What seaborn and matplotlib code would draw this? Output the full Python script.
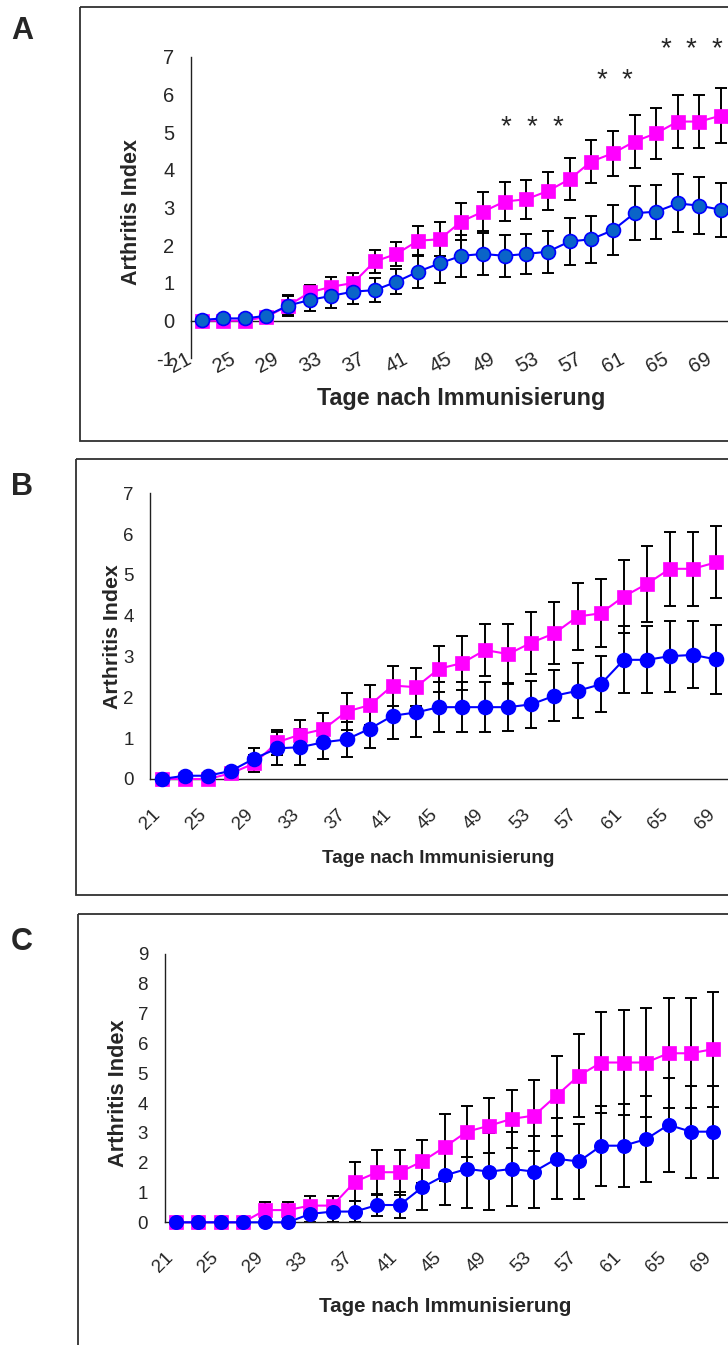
import matplotlib
matplotlib.use("Agg")
import matplotlib.pyplot as plt
import matplotlib.transforms as mtransforms
from matplotlib.patches import Rectangle
import pandas as pd
import seaborn as sns

# days after immunisation (one category every 2 days)
days = [21, 23, 25, 27, 29, 31, 33, 35, 37, 39, 41, 43, 45,
        47, 49, 51, 53, 55, 57, 59, 61, 63, 65, 67, 69]

# panel A
A_pink_mean = [0, 0, 0, 0.1, 0.4, 0.75, 0.9, 1.0, 1.57, 1.77, 2.12, 2.16, 2.63,
               2.89, 3.16, 3.22, 3.44, 3.75, 4.22, 4.44, 4.75, 4.97, 5.28, 5.28, 5.44]
A_pink_sem = [0, 0, 0, 0.05, 0.28, 0.2, 0.27, 0.26, 0.3, 0.32, 0.4, 0.45, 0.5,
              0.52, 0.52, 0.52, 0.5, 0.56, 0.56, 0.6, 0.7, 0.68, 0.71, 0.71, 0.72]
A_blue_mean = [0.02, 0.06, 0.06, 0.13, 0.4, 0.55, 0.66, 0.77, 0.81, 1.03, 1.3, 1.52, 1.72,
               1.77, 1.72, 1.77, 1.83, 2.1, 2.16, 2.4, 2.85, 2.89, 3.11, 3.05, 2.94]
A_blue_sem = [0, 0.02, 0.03, 0.05, 0.25, 0.28, 0.33, 0.33, 0.32, 0.33, 0.44, 0.52, 0.55,
              0.55, 0.55, 0.52, 0.56, 0.62, 0.62, 0.66, 0.71, 0.72, 0.77, 0.76, 0.71]

# panel B
B_pink_mean = [0, 0, 0, 0.14, 0.38, 0.9, 1.09, 1.22, 1.65, 1.81, 2.29, 2.25, 2.7,
               2.84, 3.16, 3.06, 3.34, 3.57, 3.98, 4.06, 4.47, 4.78, 5.15, 5.15, 5.31]
B_pink_sem = [0, 0, 0, 0.05, 0.22, 0.3, 0.36, 0.39, 0.45, 0.49, 0.49, 0.46, 0.57,
              0.67, 0.63, 0.73, 0.76, 0.76, 0.83, 0.83, 0.9, 0.93, 0.91, 0.91, 0.88]
B_blue_mean = [0, 0.08, 0.08, 0.2, 0.5, 0.75, 0.78, 0.9, 0.97, 1.23, 1.55, 1.63, 1.76,
               1.76, 1.76, 1.76, 1.83, 2.04, 2.16, 2.32, 2.92, 2.92, 3.01, 3.04, 2.93]
B_blue_sem = [0, 0.04, 0.04, 0.08, 0.25, 0.41, 0.44, 0.41, 0.42, 0.46, 0.58, 0.59, 0.62,
              0.62, 0.62, 0.58, 0.57, 0.62, 0.67, 0.69, 0.82, 0.82, 0.87, 0.82, 0.85]

# panel C
C_pink_mean = [0, 0, 0, 0, 0.41, 0.41, 0.56, 0.56, 1.36, 1.68, 1.68, 2.04, 2.52,
               3.04, 3.24, 3.47, 3.58, 4.25, 4.92, 5.36, 5.36, 5.36, 5.67, 5.67, 5.81]
C_pink_sem = [0, 0, 0, 0, 0.26, 0.26, 0.32, 0.32, 0.65, 0.75, 0.75, 0.72, 1.12,
              0.86, 0.92, 0.97, 1.2, 1.34, 1.4, 1.71, 1.77, 1.82, 1.85, 1.85, 1.93]
C_blue_mean = [0, 0, 0, 0, 0, 0, 0.28, 0.36, 0.36, 0.58, 0.58, 1.17, 1.57,
               1.79, 1.7, 1.79, 1.7, 2.13, 2.04, 2.57, 2.57, 2.79, 3.27, 3.04, 3.04]
C_blue_sem = [0, 0, 0, 0, 0, 0, 0.28, 0.36, 0.36, 0.37, 0.45, 0.76, 0.99,
              1.3, 1.29, 1.23, 1.21, 1.36, 1.27, 1.34, 1.4, 1.43, 1.57, 1.54, 1.54]

# significance stars in panel A: (day positions, height)
sig_stars = [([49.1, 51.5, 53.9], 5.38),
             ([58.0, 60.3], 6.63),
             ([63.9, 66.2, 68.6], 7.46)]

xlabel = "Tage nach Immunisierung"
ylabel = "Arthritis Index"

sns.set_style("white")
plt.rcParams["font.family"] = ["Liberation Sans", "DejaVu Sans"]
plt.rcParams["axes.unicode_minus"] = False

W, H = 728, 1345
fig = plt.figure(figsize=(W / 100, H / 100), dpi=100)
# transform for positions given in image pixels (y downwards)
px = mtransforms.Affine2D().scale(1 / W, -1 / H).translate(0, 1) + fig.transFigure

PINK = "#FF00FF"
BLUE = "#0000FF"
idx = [(d - days[0]) / 2 for d in days]

panels = [
    dict(letter="A", letter_y=39, frame=(79.5, 7, 440.7), axis_x=190.7, y_top=56.7, y_bot=358.4,
         step=21.65, ylim=(-1, 7), pink=(A_pink_mean, A_pink_sem), blue=(A_blue_mean, A_blue_sem),
         blue_face="#0A64C8", rot=28, tick_fs=14.5, xlab_fs=16.8, ylab_fs=15.5,
         xlab_xy=(461, 405), ylab_xy=(142, 212), xpad=26.5, xshift=-11, ms=(10.5, 10)),
    dict(letter="B", letter_y=495, frame=(76, 459, 895), axis_x=150.2, y_top=493.3, y_bot=779,
         step=23.1, ylim=(0, 7), pink=(B_pink_mean, B_pink_sem), blue=(B_blue_mean, B_blue_sem),
         blue_face=BLUE, rot=45, tick_fs=13.5, xlab_fs=13.6, ylab_fs=15.3,
         xlab_xy=(438.5, 863), ylab_xy=(122, 637), xpad=23.8, xshift=-4, ms=(10, 10)),
    dict(letter="C", letter_y=950, frame=(78, 914, 1365), axis_x=164.5, y_top=954, y_bot=1222.3,
         step=22.4, ylim=(0, 9), pink=(C_pink_mean, C_pink_sem), blue=(C_blue_mean, C_blue_sem),
         blue_face=BLUE, rot=45, tick_fs=13.5, xlab_fs=14.8, ylab_fs=15.7,
         xlab_xy=(444.7, 1311.5), ylab_xy=(128.5, 1093), xpad=23.8, xshift=-5, ms=(10.5, 9.6)),
]

ncat = 27  # axis keeps going past the right edge of the picture
for p in panels:
    fl, ft, fb = p["frame"]
    fig.add_artist(Rectangle((fl, ft), 900 - fl, fb - ft, transform=px, fill=False,
                             ec="#303030", lw=1.3))
    fig.text(11, p["letter_y"], p["letter"], transform=px, fontsize=22, fontweight="bold",
             ha="left", va="baseline")

    ax = fig.add_axes([p["axis_x"] / W, 1 - p["y_bot"] / H, ncat * p["step"] / W,
                       (p["y_bot"] - p["y_top"]) / H])
    ax.patch.set_alpha(0)

    for side in ("top", "right"):
        ax.spines[side].set_visible(False)
    for side in ("left", "bottom"):
        ax.spines[side].set_color("#202020")
        ax.spines[side].set_linewidth(1.0)
    if p["ylim"][0] < 0:
        ax.spines["bottom"].set_position(("data", 0))

    pm, ps = p["pink"]
    bm, bs = p["blue"]
    for m, s in ((pm, ps), (bm, bs)):
        ax.errorbar(idx, m, yerr=s, fmt="none", ecolor="black", elinewidth=1.4,
                    capsize=4, capthick=1.4, zorder=2)
    sns.lineplot(x=idx, y=pm, ax=ax, color=PINK, lw=1.5, marker="s", markersize=p["ms"][0],
                 markerfacecolor=PINK, markeredgecolor=PINK, markeredgewidth=0.5,
                 clip_on=False, zorder=3)
    sns.lineplot(x=idx, y=bm, ax=ax, color=BLUE, lw=1.5, marker="o", markersize=p["ms"][1],
                 markerfacecolor=p["blue_face"], markeredgecolor=BLUE, markeredgewidth=1.2,
                 clip_on=False, zorder=4)

    ax.set_xlim(-0.5, ncat - 0.5)
    ax.set_ylim(*p["ylim"])
    ax.set_yticks(range(p["ylim"][0], p["ylim"][1] + 1))
    ax.set_xticks([i - 0.5 for i in range(ncat + 1)])
    ax.set_xticks(idx[::2], labels=[str(d) for d in days[::2]], minor=True)
    ax.tick_params(axis="x", which="major", length=4.3, width=1, direction="out",
                   labelbottom=False, color="#202020")
    ax.tick_params(axis="x", which="minor", length=0, pad=p["xpad"], labelsize=p["tick_fs"])
    ax.tick_params(axis="y", length=4.3, width=1, direction="out", pad=7.5,
                   labelsize=p["tick_fs"], color="#202020")
    shift = mtransforms.ScaledTranslation(p["xshift"] / 100, 0, fig.dpi_scale_trans)
    for lab in ax.get_xticklabels(minor=True):
        lab.set_rotation(p["rot"])
        lab.set_ha("right")
        lab.set_va("center")
        lab.set_rotation_mode("anchor")
        lab.set_transform(lab.get_transform() + shift)

    ax.set_xlabel(xlabel, fontsize=p["xlab_fs"], fontweight="bold")
    ax.xaxis.set_label_coords(*p["xlab_xy"], transform=px)
    ax.xaxis.label.set_va("baseline")
    ax.set_ylabel(ylabel, fontsize=p["ylab_fs"], fontweight="bold")
    ax.yaxis.set_label_coords(*p["ylab_xy"], transform=px)

    if p["letter"] == "A":
        for xs, yv in sig_stars:
            for d in xs:
                ax.annotate("*", xy=((d - days[0]) / 2, yv), xytext=(0, -12),
                            textcoords="offset points", ha="center", va="baseline",
                            fontsize=20, annotation_clip=False)

fig.savefig("out.png", dpi=100)
